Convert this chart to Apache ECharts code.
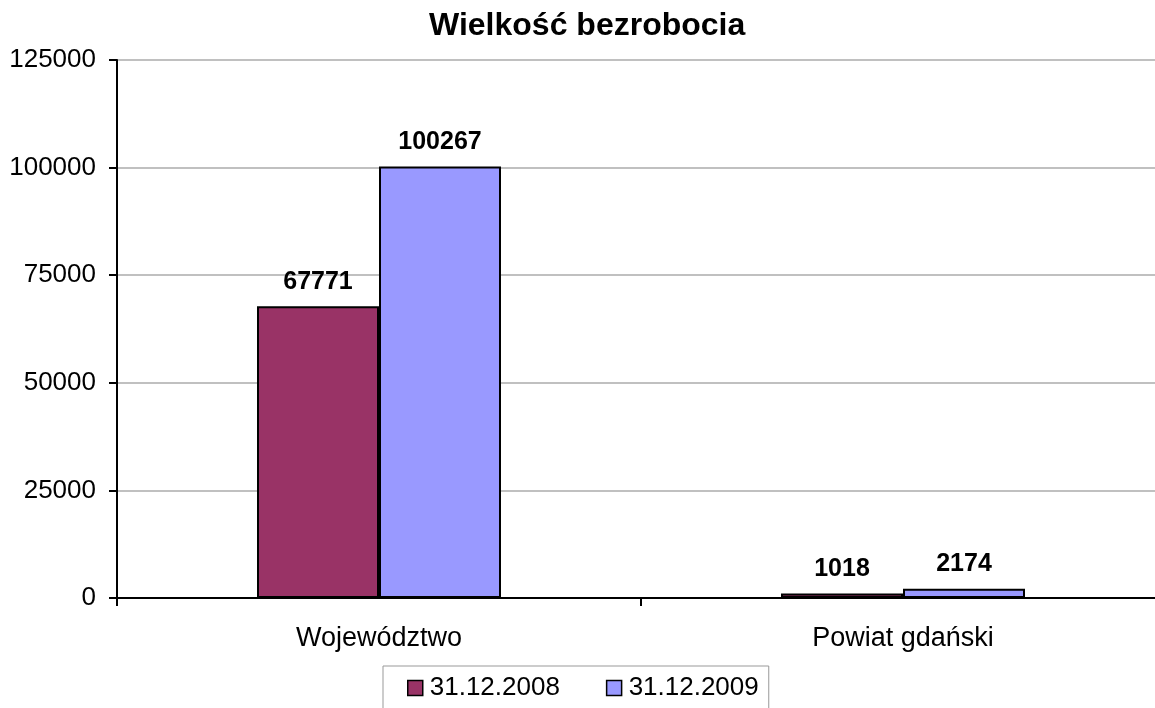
<!DOCTYPE html>
<html>
<head>
<meta charset="utf-8">
<script src="https://cdn.jsdelivr.net/npm/echarts@6/dist/echarts.min.js"></script>
<style>
html, body { margin: 0; padding: 0; background: #ffffff; }
#chart { width: 1155px; height: 708px; }
</style>
</head>
<body>
<div id="chart"></div>
<script>
// dane wykresu
const categories = ["Województwo", "Powiat gdański"];
const seriesNames = ["31.12.2008", "31.12.2009"];
const values2008 = [67771, 1018];
const values2009 = [100267, 2174];
const barColors = ["#993366", "#9999ff"];

const chart = echarts.init(document.getElementById("chart"));
const font = "Arial, 'Liberation Sans', sans-serif";

const makeSeries = (name, data, color) => ({
    name: name,
    type: "bar",
    data: data,
    barWidth: 122,
    barGap: "0%",
    itemStyle: { color: color, borderColor: "#000000", borderWidth: 2 },
    label: {
        show: true,
        position: "top",
        distance: 12,
        color: "#000000",
        fontFamily: font,
        fontWeight: "bold",
        fontSize: 25
    }
});

const option = {
    backgroundColor: "#ffffff",
    animation: false,
    title: {
        text: "Wielkość bezrobocia",
        left: 424,
        top: 5,
        textStyle: { fontFamily: font, fontWeight: "bold", fontSize: 32, color: "#000000" }
    },
    legend: {
        data: seriesNames,
        left: 383,
        top: 666,
        padding: [9, 10, 14, 24],
        itemWidth: 15,
        itemHeight: 15,
        itemGap: 46,
        icon: "rect",
        borderColor: "#999999",
        borderWidth: 1,
        borderRadius: 0,
        itemStyle: { borderColor: "#000000", borderWidth: 1.5 },
        textStyle: { fontFamily: font, fontSize: 26, color: "#000000", padding: [0, 0, 0, 2] }
    },
    grid: { left: 117, top: 60, width: 1048, bottom: 110, containLabel: false, outerBoundsMode: "none" },
    xAxis: {
        type: "category",
        data: categories,
        axisLine: { lineStyle: { color: "#000000", width: 2 } },
        axisTick: { show: true, length: 8, lineStyle: { color: "#000000", width: 2 } },
        axisLabel: { margin: 27, fontFamily: font, fontSize: 27, color: "#000000" }
    },
    yAxis: {
        type: "value",
        min: 0,
        max: 125000,
        interval: 25000,
        axisLine: { show: true, lineStyle: { color: "#000000", width: 2 } },
        axisTick: { show: true, length: 8, lineStyle: { color: "#000000", width: 2 } },
        axisLabel: {
            margin: 21,
            fontFamily: font,
            fontSize: 26,
            color: "#000000",
            formatter: (v) => String(v)
        },
        splitLine: { lineStyle: { color: "#c0c0c0", width: 2 } }
    },
    series: [
        makeSeries(seriesNames[0], values2008, barColors[0]),
        makeSeries(seriesNames[1], values2009, barColors[1])
    ]
};

chart.setOption(option);
</script>
</body>
</html>
